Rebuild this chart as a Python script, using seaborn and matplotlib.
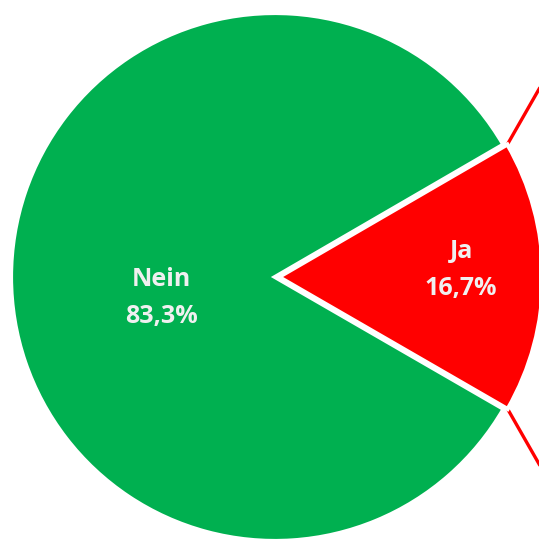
import numpy as np
import seaborn as sns
import matplotlib.pyplot as plt

# data
labels = ["Ja", "Nein"]
shares = [16.7, 83.3]
colors = ["#FF0000", "#00B050"]

sns.set_theme(style="white")
plt.rcParams['font.family'] = ['Open Sans', 'DejaVu Sans']

fig = plt.figure(figsize=(5.39, 5.39), dpi=100)
ax = fig.add_axes([0, 0, 1, 1])

wedges, _ = ax.pie(shares, colors=colors, startangle=-30, radius=264,
                   explode=[4, 0], counterclock=True,
                   wedgeprops=dict(edgecolor="white", linewidth=3, joinstyle="miter"))

# pixel-like frame: centre at (275, 277) from top-left
ax.set_xlim(-275, 539 - 275)
ax.set_ylim(-(539 - 277), 277)
ax.set_aspect("equal")
ax.axis("off")

# labels inside the wedges
label_r = {"Ja": 0.69, "Nein": 0.43}
label_dy = {"Ja": 7, "Nein": -21}
for w, lab, val in zip(wedges, labels, shares):
    mid = np.deg2rad((w.theta1 + w.theta2) / 2)
    r = w.r * label_r[lab]
    x = w.center[0] + r * np.cos(mid)
    y = w.center[1] + r * np.sin(mid) + label_dy[lab]
    ax.text(x, y, f"{lab}\n{val:.1f}%".replace(".", ","), ha="center", va="center",
            color="#F0F0F0", fontsize=18, fontweight="bold", linespacing=1.65)

# connector lines towards the (cut-off) second chart
ja = wedges[0]
for th, sgn in [(ja.theta2, 1), (ja.theta1, -1)]:
    t = np.deg2rad(th)
    x0 = ja.center[0] + ja.r * np.cos(t)
    y0 = ja.center[1] + ja.r * np.sin(t)
    ax.plot([x0, x0 + 80], [y0, y0 + sgn * 140], color="#FF0000", lw=2.4,
            solid_capstyle="butt", zorder=0)

fig.savefig("out.png", dpi=100, facecolor="white")
